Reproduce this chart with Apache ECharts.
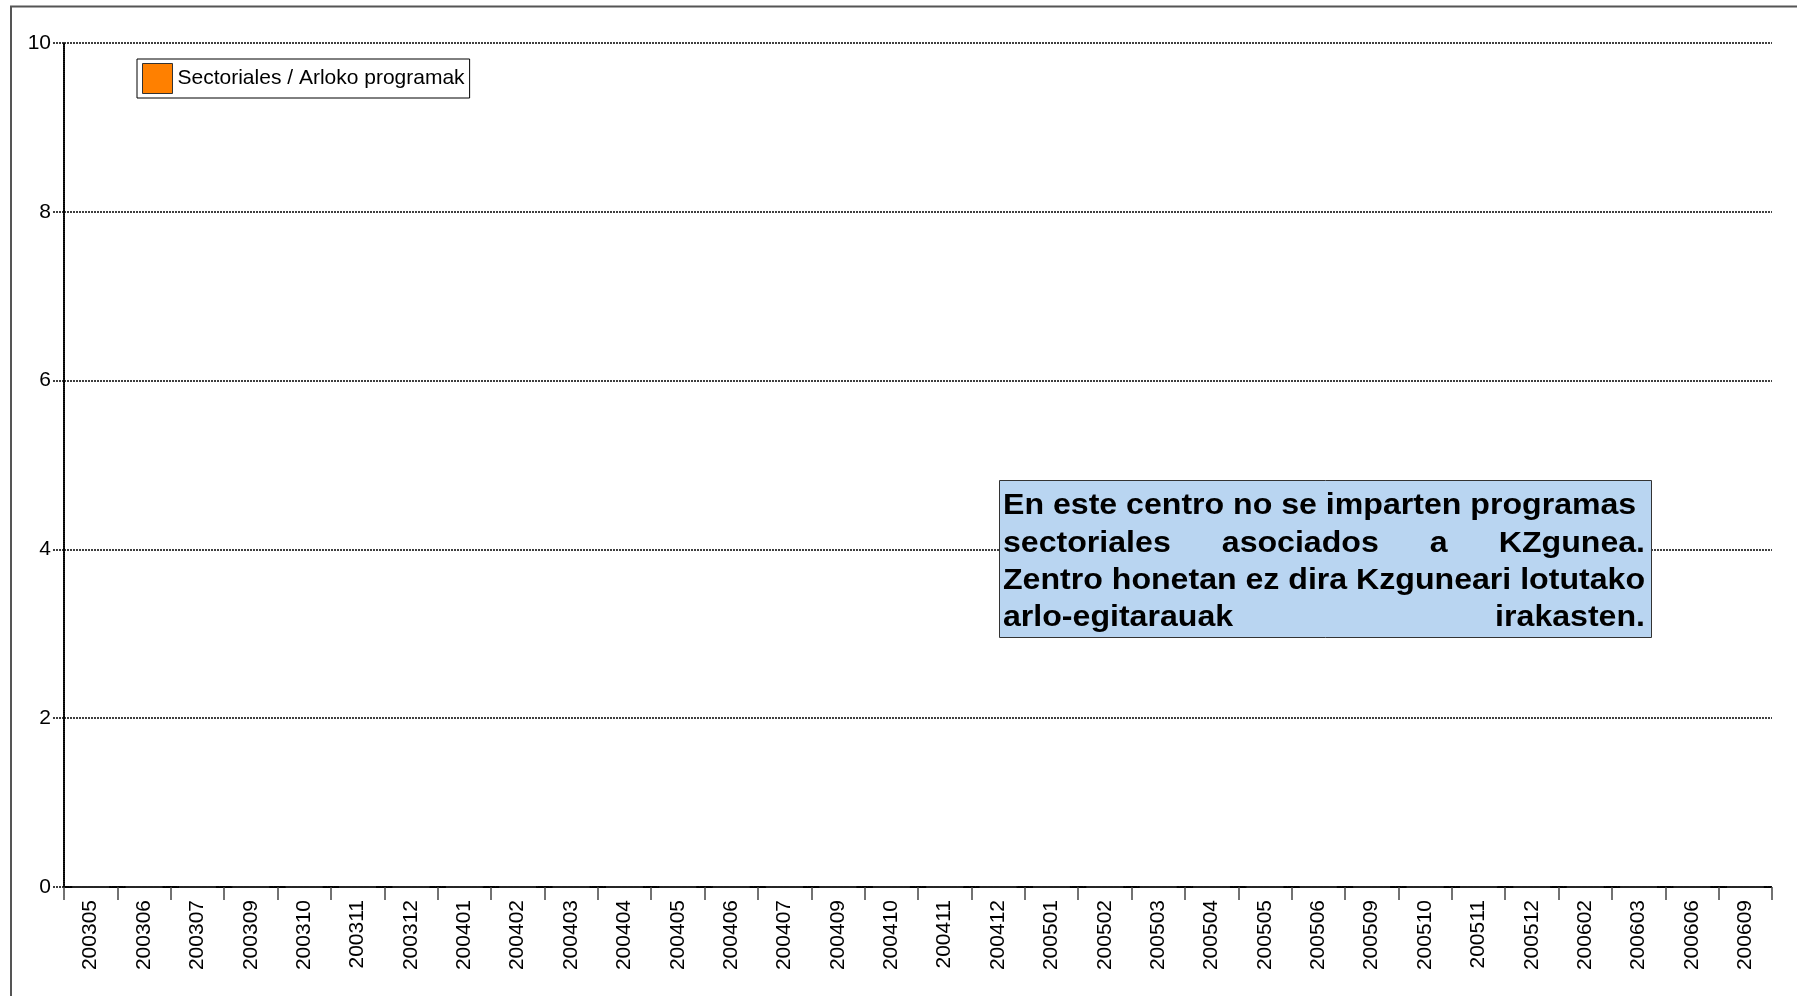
<!DOCTYPE html>
<html>
<head>
<meta charset="utf-8">
<title>Sectoriales / Arloko programak</title>
<script src="https://cdn.jsdelivr.net/npm/echarts@6/dist/echarts.min.js"></script>
<style>
  html, body { margin: 0; padding: 0; background: #fff; }
  #main { width: 1797px; height: 996px; }
</style>
</head>
<body>
<div id="main"></div>
<script>
/* datos del grafico */
var months = ['200305', '200306', '200307', '200309', '200310', '200311', '200312', '200401',
    '200402', '200403', '200404', '200405', '200406', '200407', '200409', '200410',
    '200411', '200412', '200501', '200502', '200503', '200504', '200505', '200506',
    '200509', '200510', '200511', '200512', '200602', '200603', '200606', '200609'];
var sectoriales = [0, 0, 0, 0, 0, 0, 0, 0, 0, 0, 0, 0, 0, 0, 0, 0,
    0, 0, 0, 0, 0, 0, 0, 0, 0, 0, 0, 0, 0, 0, 0, 0];
var yTicks = [0, 2, 4, 6, 8, 10];
var seriesName = 'Sectoriales / Arloko programak';
var noteLines = [
    'En este centro no se imparten programas',
    'sectoriales asociados a KZgunea.',
    'Zentro honetan ez dira Kzguneari lotutako',
    'arlo-egitarauak irakasten.'
];

var FONT = '"Liberation Sans", Arial, sans-serif';

/*texto justificado dentro de la caja*/
function buildNote(x0, x1, ys) {
    var font = 'bold 30px ' + FONT;
    var ctx = document.createElement('canvas').getContext('2d');
    ctx.font = font;
    // ancho horizontal ajustado a la linea mas larga
    var sx = (x1 - x0) / ctx.measureText(noteLines[2]).width;
    var els = [];
    for (var i = 0; i < noteLines.length; i++) {
        var words = noteLines[i].split(' ');
        var widths = words.map(function (w) { return ctx.measureText(w).width * sx; });
        var total = widths.reduce(function (a, b) { return a + b; }, 0);
        var gap = ctx.measureText(' ').width * sx;
        if (i > 0 && words.length > 1) {
            gap = (x1 - x0 - total) / (words.length - 1);
        }
        var x = x0;
        for (var j = 0; j < words.length; j++) {
            els.push({
                type: 'text', x: x, y: ys[i], scaleX: sx, z: 101,
                style: {
                    text: words[j], font: font, fill: '#000',
                    align: 'left', textAlign: 'left',
                    verticalAlign: 'middle', textVerticalAlign: 'middle'
                }
            });
            x += widths[j] + gap;
        }
    }
    return els;
}

var chart = echarts.init(document.getElementById('main'));

var graphics = [
    {   // marco exterior
        type: 'rect', z: 0, silent: true,
        shape: { x: 11, y: 6.5, width: 1900, height: 1100 },
        style: { fill: 'none', stroke: '#555', lineWidth: 2 }
    },
    {   // caja del aviso
        type: 'rect', z: 100,
        shape: { x: 999.5, y: 480.5, width: 652, height: 157 },
        style: { fill: '#B9D5F1', stroke: '#333', lineWidth: 1 }
    }
].concat(buildNote(1003, 1645, [506, 544, 581, 618]));

chart.setOption({
    animation: false,
    textStyle: { fontFamily: FONT },
    legend: {
        data: [seriesName],
        left: 137, top: 59,
        padding: [4, 5, 4, 5],
        itemWidth: 30, itemHeight: 30, itemGap: 5,
        icon: 'rect',
        backgroundColor: '#fff',
        borderColor: '#000', borderWidth: 1,
        itemStyle: { borderColor: '#333', borderWidth: 1 },
        textStyle: { fontSize: 21, color: '#000', fontFamily: FONT, padding: [0, 0, 0, 0] }
    },
    grid: { left: 64, right: 25, top: 43, bottom: 109, containLabel: false },
    xAxis: {
        type: 'category',
        data: months,
        boundaryGap: true,
        axisLine: { lineStyle: { color: '#000', width: 2, type: [1, 1] } },
        axisTick: { show: true, length: 13, lineStyle: { color: '#444', width: 1.5 } },
        axisLabel: { rotate: 90, fontSize: 21, color: '#000', margin: 13, interval: 0, fontFamily: FONT },
        splitLine: { show: false }
    },
    yAxis: {
        type: 'value',
        min: yTicks[0], max: yTicks[yTicks.length - 1], interval: 2,
        axisLine: { show: true, lineStyle: { color: '#000', width: 2, type: [1, 1] } },
        axisTick: { show: true, length: 12, lineStyle: { color: '#000', width: 1.5, type: [2, 1] } },
        axisLabel: { fontSize: 21, color: '#000', margin: 13, fontFamily: FONT },
        splitLine: { show: true, lineStyle: { color: '#000', width: 1.5, type: [2, 1] } }
    },
    series: [{
        name: seriesName,
        type: 'bar',
        data: sectoriales,
        itemStyle: { color: '#FF8000', borderColor: '#333', borderWidth: 1 }
    }],
    graphic: graphics
});
</script>
</body>
</html>
